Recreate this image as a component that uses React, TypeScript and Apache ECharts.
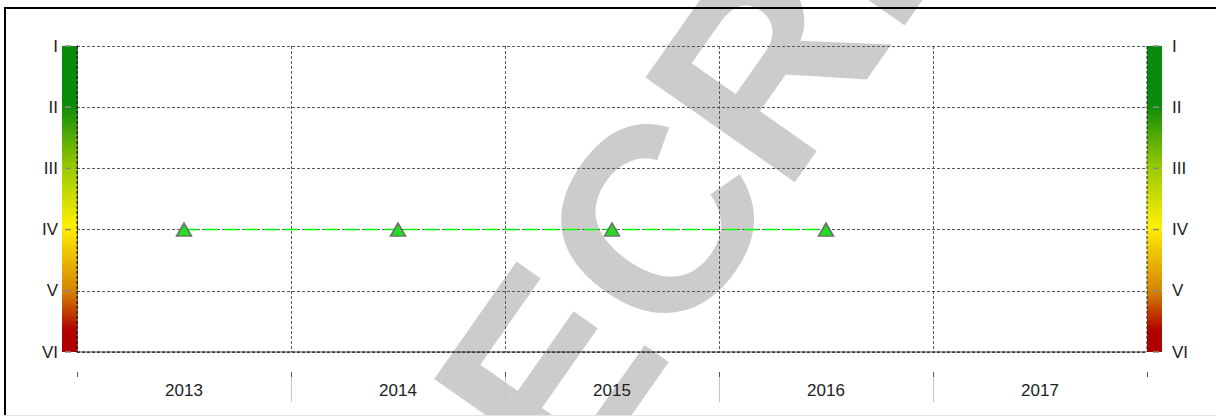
import React, { useEffect, useRef } from "react";
import * as echarts from "echarts";

const years: string[] = ["2013", "2014", "2015", "2016", "2017"];
const classValues: (number | null)[] = [4, 4, 4, 4, null];
const classLabels: string[] = ["I", "II", "III", "IV", "V", "VI"];
const boundaryTicks: number[] = [1, 2, 3, 4];
const watermarkText = "SECRET";

export default function App() {
  const ref = useRef<HTMLDivElement>(null);

  useEffect(() => {
    document.body.style.margin = "0";
    const chart = echarts.init(ref.current!, null, { renderer: "svg" });
    const roman = (v: number) => classLabels[Math.round(v) - 1] ?? "";
    const makeGradient = () =>
      new echarts.graphic.LinearGradient(0, 0, 0, 1, [
        { offset: 0, color: "#0a8a0a" },
        { offset: 0.19, color: "#0a8a0a" },
        { offset: 0.4, color: "#9ccb00" },
        { offset: 0.59, color: "#fff000" },
        { offset: 0.8, color: "#d68400" },
        { offset: 0.93, color: "#b00000" },
        { offset: 1, color: "#b00000" },
      ]);
    const font = "Liberation Sans";
    const grid = "#5a5a5a";

    chart.setOption({
      animation: false,
      backgroundColor: "#fff",
      textStyle: { fontFamily: font },
      grid: { left: 77, right: 69, top: 46, bottom: 64, containLabel: false },
      xAxis: [
        {
          type: "category",
          data: years,
          boundaryGap: true,
          position: "bottom",
          axisLine: { show: true, lineStyle: { color: "#333", type: [3, 2], width: 1.5 } },
          axisTick: { show: false },
          axisLabel: { margin: 30, fontSize: 17, color: "#222", fontFamily: font },
          splitLine: { show: true, interval: 0, lineStyle: { color: grid, type: [3, 2], width: 1 } },
        },
        {
          type: "value",
          min: 0,
          max: years.length,
          interval: 1,
          position: "bottom",
          offset: 20,
          axisLine: { show: false },
          axisLabel: { show: false },
          splitLine: { show: false },
          axisTick: { show: true, length: 30, customValues: boundaryTicks, lineStyle: { color: "#c4c4c4", width: 1 } },
        },
        {
          type: "value",
          min: 0,
          max: years.length,
          interval: 1,
          position: "bottom",
          offset: 20,
          axisLine: { show: false },
          axisLabel: { show: false },
          splitLine: { show: false },
          axisTick: { show: true, length: 5, lineStyle: { color: "#555", width: 1 } },
        },
      ],
      yAxis: [
        {
          type: "value",
          inverse: true,
          min: 1,
          max: 6,
          interval: 1,
          position: "left",
          axisLine: { show: true, lineStyle: { color: "#222", type: [3, 2], width: 1 } },
          axisTick: { show: false },
          axisLabel: { formatter: roman, margin: 19, fontSize: 17, color: "#222", fontFamily: font },
          splitLine: { show: true, lineStyle: { color: grid, type: [3, 2], width: 1 } },
        },
        {
          type: "value",
          inverse: true,
          min: 1,
          max: 6,
          interval: 1,
          position: "right",
          axisLine: { show: true, lineStyle: { color: "#222", type: [3, 2], width: 1 } },
          axisTick: { show: false },
          axisLabel: { formatter: roman, margin: 25, fontSize: 17, color: "#222", fontFamily: font },
          splitLine: { show: false },
        },
      ],
      graphic: [
        {
          type: "text",
          z: -10,
          x: 705,
          y: 150,
          rotation: (55 * Math.PI) / 180,
          silent: true,
          style: {
            text: watermarkText,
            font: `bold 265px "${font}"`,
            fill: "#cccccc",
            align: "center",
            verticalAlign: "middle",
          },
        },
        { type: "line", z: 10, shape: { x1: 4, y1: 8, x2: 1216, y2: 8 }, style: { stroke: "#000", lineWidth: 2 } },
        { type: "line", z: 10, shape: { x1: 5, y1: 7, x2: 5, y2: 416 }, style: { stroke: "#000", lineWidth: 2 } },
        { type: "line", z: 10, shape: { x1: 4, y1: 415.5, x2: 1216, y2: 415.5 }, style: { stroke: "#e4e4e4", lineWidth: 1 } },
      ],
      series: [
        {
          type: "custom",
          xAxisIndex: 0,
          yAxisIndex: 0,
          data: [[0, 1]],
          silent: true,
          z: 3,
          renderItem: (params: any, api: any) => {
            const cs = params.coordSys;
            const top = api.coord([0, 1])[1];
            const bottom = api.coord([0, classLabels.length])[1];
            const children: any[] = [
              { type: "rect", shape: { x: cs.x - 15, y: top, width: 15, height: bottom - top }, style: { fill: makeGradient() } },
              { type: "rect", shape: { x: cs.x + cs.width, y: top, width: 15, height: bottom - top }, style: { fill: makeGradient() } },
              { type: "line", shape: { x1: cs.x, y1: top, x2: cs.x, y2: bottom }, style: { stroke: "#222", lineWidth: 1, lineDash: [3, 2] } },
              { type: "line", shape: { x1: cs.x + cs.width, y1: top, x2: cs.x + cs.width, y2: bottom }, style: { stroke: "#222", lineWidth: 1, lineDash: [3, 2] } },
            ];
            classLabels.forEach((_, i) => {
              const y = api.coord([0, i + 1])[1];
              children.push({ type: "line", shape: { x1: cs.x - 12, y1: y, x2: cs.x - 6, y2: y }, style: { stroke: "#8a8a8a", lineWidth: 1.5 } });
              children.push({ type: "line", shape: { x1: cs.x + cs.width + 6, y1: y, x2: cs.x + cs.width + 12, y2: y }, style: { stroke: "#8a8a8a", lineWidth: 1.5 } });
            });
            return { type: "group", children };
          },
        },
        {
          type: "line",
          xAxisIndex: 0,
          yAxisIndex: 0,
          data: classValues,
          z: 5,
          symbol: "triangle",
          symbolSize: [15, 13],
          itemStyle: { color: "#22dd22", borderColor: "#6e6e6e", borderWidth: 1.5 },
          lineStyle: { color: "#00ff00", width: 1.5, type: [14, 6] },
        },
      ],
    });

    return () => chart.dispose();
  }, []);

  return <div ref={ref} style={{ width: 1216, height: 416 }} />;
}
